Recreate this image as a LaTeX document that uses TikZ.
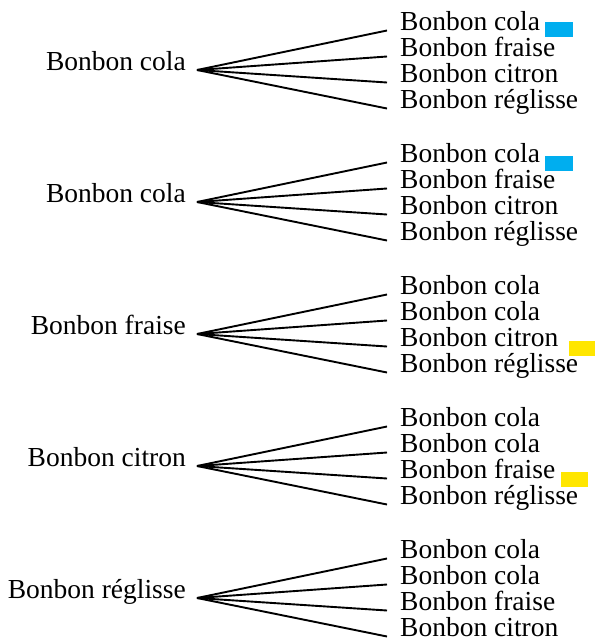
\documentclass[tikz,border=0pt]{standalone}
\usepackage{fontspec}
\setmainfont{Liberation Serif}
\usetikzlibrary{calc}
\definecolor{candyblue}{HTML}{00AEEF}
\definecolor{candyyellow}{HTML}{FFE600}
\begin{document}
\begin{tikzpicture}[x=1pt,y=-1pt,
  lbl/.style={inner sep=0pt, font=\fontsize{27.5}{30}\selectfont},
  rootlbl/.style={lbl, anchor=base east},
  childlbl/.style={lbl, anchor=base west},
  branch/.style={line width=1.9pt},
  tag/.style={inner sep=0pt, minimum width=#1, minimum height=15pt, draw=none}]
\useasboundingbox (0,0) rectangle (595,638);

% group 1
\node[rootlbl] (r1) at (186,70) {Bonbon cola};
\coordinate (p1) at (197,70);
\node[childlbl] (c11) at (400,30.5) {Bonbon cola};
\node[childlbl] (c12) at (400,56.5) {Bonbon fraise};
\node[childlbl] (c13) at (400,82.5) {Bonbon citron};
\node[childlbl] (c14) at (400,108.5) {Bonbon réglisse};
\foreach \c in {c11,c12,c13,c14} \draw[branch] (p1) -- ($(\c.base west)+(-13,0)$);
\node[tag=28pt, fill=candyblue] (t1) at (559,29.5) {};

% group 2
\node[rootlbl] (r2) at (186,202) {Bonbon cola};
\coordinate (p2) at (197,202);
\node[childlbl] (c21) at (400,162.5) {Bonbon cola};
\node[childlbl] (c22) at (400,188.5) {Bonbon fraise};
\node[childlbl] (c23) at (400,214.5) {Bonbon citron};
\node[childlbl] (c24) at (400,240.5) {Bonbon réglisse};
\foreach \c in {c21,c22,c23,c24} \draw[branch] (p2) -- ($(\c.base west)+(-13,0)$);
\node[tag=28pt, fill=candyblue] (t2) at (559,163) {};

% group 3
\node[rootlbl] (r3) at (186,334) {Bonbon fraise};
\coordinate (p3) at (197,334);
\node[childlbl] (c31) at (400,294.5) {Bonbon cola};
\node[childlbl] (c32) at (400,320.5) {Bonbon cola};
\node[childlbl] (c33) at (400,346.5) {Bonbon citron};
\node[childlbl] (c34) at (400,372.5) {Bonbon réglisse};
\foreach \c in {c31,c32,c33,c34} \draw[branch] (p3) -- ($(\c.base west)+(-13,0)$);
\node[tag=26pt, fill=candyyellow] (t3) at (582,348) {};

% group 4
\node[rootlbl] (r4) at (186,466) {Bonbon citron};
\coordinate (p4) at (197,466);
\node[childlbl] (c41) at (400,426.5) {Bonbon cola};
\node[childlbl] (c42) at (400,452.5) {Bonbon cola};
\node[childlbl] (c43) at (400,478.5) {Bonbon fraise};
\node[childlbl] (c44) at (400,504.5) {Bonbon réglisse};
\foreach \c in {c41,c42,c43,c44} \draw[branch] (p4) -- ($(\c.base west)+(-13,0)$);
\node[tag=27pt, fill=candyyellow] (t4) at (574.5,479.5) {};

% group 5
\node[rootlbl] (r5) at (186,598) {Bonbon réglisse};
\coordinate (p5) at (197,598);
\node[childlbl] (c51) at (400,558.5) {Bonbon cola};
\node[childlbl] (c52) at (400,584.5) {Bonbon cola};
\node[childlbl] (c53) at (400,610.5) {Bonbon fraise};
\node[childlbl] (c54) at (400,636.5) {Bonbon citron};
\foreach \c in {c51,c52,c53,c54} \draw[branch] (p5) -- ($(\c.base west)+(-13,0)$);
\end{tikzpicture}
\end{document}
